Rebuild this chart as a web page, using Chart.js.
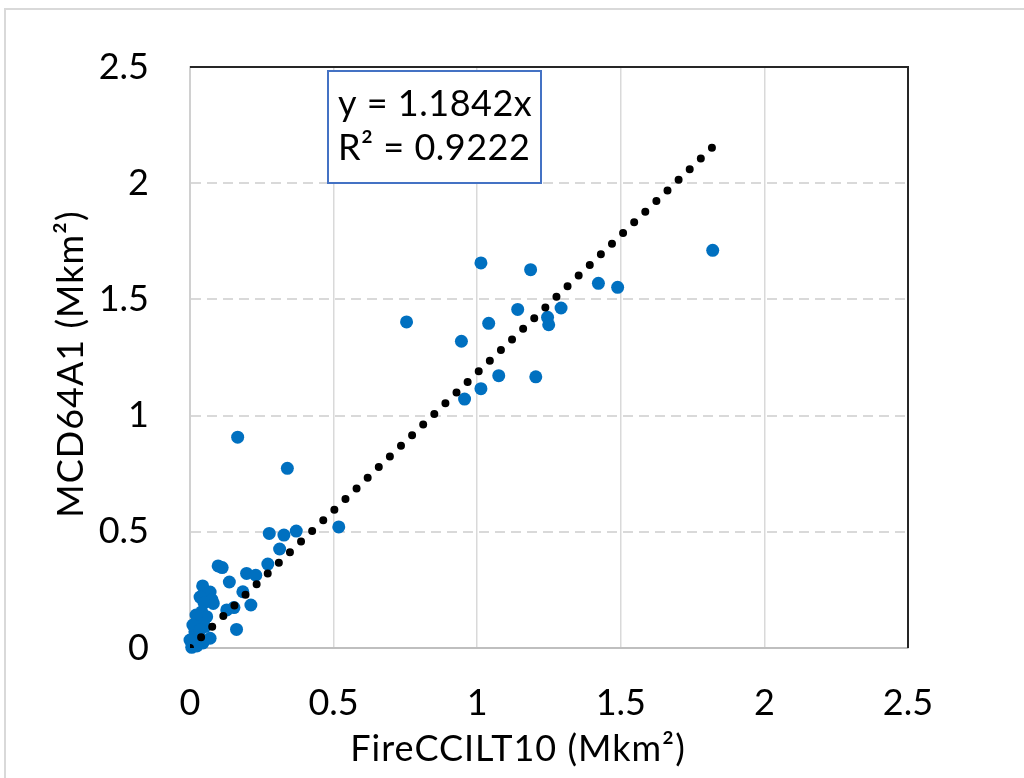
<!DOCTYPE html>
<html>
<head>
<meta charset="utf-8">
<script src="https://cdn.jsdelivr.net/npm/chart.js@4.4.0/dist/chart.umd.min.js"></script>
<style>
  html, body { margin: 0; padding: 0; background: #fff; overflow: hidden; }
  #frame { position: absolute; left: 4px; top: 8px; width: 1100px; height: 900px; border: 2px solid #d9d9d9; }
  #wrap { position: absolute; left: 0; top: 0; width: 1024px; height: 778px; }
</style>
</head>
<body>
<div id="frame"></div>
<div id="wrap"><canvas id="scatterChart" width="1024" height="778"></canvas></div>
<script>
// burned area per region, Mkm2
const fireCCI = [
    0.754, 0.945, 1.013, 1.040, 1.186, 1.141, 1.245, 1.249, 1.292, 1.422, 1.489, 1.820,
    0.956, 1.013, 1.075, 1.204,
    0.166, 0.339, 0.518, 0.276, 0.327, 0.370, 0.312, 0.271, 0.098, 0.112, 0.197, 0.229,
    0.137, 0.044, 0.070, 0.184, 0.212, 0.081, 0.128, 0.153, 0.035, 0.041, 0.058, 0.029,
    0.052, 0.162, 0.017, 0.070, 0.000, 0.006, 0.029, 0.077, 0.049, 0.021, 0.010, 0.035,
    0.014, 0.045, 0.024
];
const mcd64 = [
    1.403, 1.320, 1.657, 1.397, 1.628, 1.457, 1.423, 1.391, 1.463, 1.569, 1.552, 1.711,
    1.071, 1.116, 1.172, 1.167,
    0.907, 0.773, 0.521, 0.493, 0.486, 0.503, 0.426, 0.361, 0.353, 0.346, 0.321, 0.313,
    0.284, 0.267, 0.241, 0.242, 0.185, 0.192, 0.164, 0.174, 0.219, 0.156, 0.135, 0.113,
    0.092, 0.080, 0.070, 0.042, 0.034, 0.003, 0.049, 0.207, 0.194, 0.142, 0.099, 0.077,
    0.022, 0.022, 0.009
];
const trendSlope = 1.1842;
const rSquared = 0.9222;
const tickValues = [0, 0.5, 1, 1.5, 2, 2.5];
const tickLabels = ["0", "0.5", "1", "1.5", "2", "2.5"];
const xTitle = "FireCCILT10 (Mkm²)";
const yTitle = "MCD64A1 (Mkm²)";

const points = fireCCI.map((x, i) => ({ x: x, y: mcd64[i] }));
const xMax = Math.max(...fireCCI);
const trendPoints = [{ x: 0, y: 0 }, { x: xMax, y: trendSlope * xMax }];

const FONT = "Lato, 'Open Sans', sans-serif";

const labelFor = v => {
    const i = tickValues.indexOf(v);
    return i >= 0 ? tickLabels[i] : "";
};

const decorPlugin = {
    id: "decor",
    afterDraw(chart) {
        const ctx = chart.ctx;
        const area = chart.chartArea;
        ctx.save();
        // dark frame on top and right of the plot
        ctx.strokeStyle = "#262626";
        ctx.lineWidth = 2;
        ctx.beginPath();
        ctx.moveTo(area.left, area.top);
        ctx.lineTo(area.right, area.top);
        ctx.lineTo(area.right, area.bottom);
        ctx.stroke();

        // equation box
        ctx.fillStyle = "#fff";
        ctx.fillRect(328, 71, 213, 112);
        ctx.strokeStyle = "#4472c4";
        ctx.lineWidth = 2;
        ctx.strokeRect(328, 71, 213, 112);
        ctx.fillStyle = "#000";
        ctx.font = "36px " + FONT;
        ctx.letterSpacing = "0.5px";
        ctx.textAlign = "left";
        ctx.textBaseline = "alphabetic";
        ctx.fillText("y = " + trendSlope.toFixed(4) + "x", 338, 116);
        ctx.fillText("R² = " + rSquared.toFixed(4), 338, 160);

        // axis titles
        ctx.font = "36px " + FONT;
        ctx.letterSpacing = "1px";
        ctx.textAlign = "center";
        ctx.fillText(xTitle, 518, 761);
        ctx.translate(83, 364);
        ctx.rotate(-Math.PI / 2);
        ctx.fillText(yTitle, 0, 0);
        ctx.restore();
    }
};

new Chart(document.getElementById("scatterChart"), {
    type: "scatter",
    data: {
        datasets: [
            {
                type: "line",
                label: "Linear",
                data: trendPoints,
                borderColor: "#000",
                borderWidth: 8,
                borderDash: [0, 15.38],
                borderCapStyle: "round",
                pointRadius: 0,
                fill: false,
                order: 0
            },
            {
                label: "Regions",
                data: points,
                backgroundColor: "#0070c0",
                borderColor: "#0070c0",
                borderWidth: 0,
                pointRadius: 6.5,
                pointHoverRadius: 6.5,
                clip: false,
                order: 1
            }
        ]
    },
    options: {
        responsive: false,
        animation: false,
        events: [],
        layout: { padding: { left: 0, top: 67, right: 116, bottom: 0 } },
        plugins: {
            legend: { display: false },
            tooltip: { enabled: false }
        },
        scales: {
            x: {
                type: "linear",
                min: 0,
                max: 2.5,
                afterBuildTicks: s => { s.ticks = tickValues.map(v => ({ value: v })); },
                afterFit: s => { s.height = 130; },
                ticks: {
                    padding: 34,
                    color: "#000",
                    font: { family: FONT, size: 36 },
                    callback: v => labelFor(v)
                },
                grid: {
                    drawTicks: false,
                    lineWidth: 1.5,
                    color: c => (c.tick && c.tick.value === 0) ? "rgba(0,0,0,0)" : "#d9d9d9"
                },
                border: { color: "#bfbfbf", width: 2 }
            },
            y: {
                type: "linear",
                min: 0,
                max: 2.5,
                afterBuildTicks: s => { s.ticks = tickValues.map(v => ({ value: v })); },
                afterFit: s => { s.width = 190; },
                ticks: {
                    padding: 41,
                    color: "#000",
                    font: { family: FONT, size: 36 },
                    callback: v => labelFor(v)
                },
                grid: {
                    drawTicks: false,
                    lineWidth: 2,
                    color: c => (c.tick && (c.tick.value === 0 || c.tick.value === 2.5)) ? "rgba(0,0,0,0)" : "#d9d9d9"
                },
                border: { color: "#d0d0d0", width: 2, dash: [10, 6] }
            }
        }
    },
    plugins: [decorPlugin]
});
</script>
</body>
</html>
